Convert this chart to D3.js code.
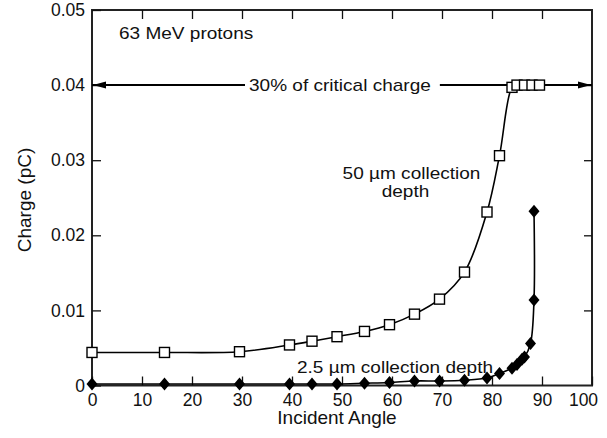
<!DOCTYPE html>
<html>
<head>
<meta charset="utf-8">
<script src="https://cdn.jsdelivr.net/npm/d3@7/dist/d3.min.js"></script>
<style>
  body { margin: 0; background: #fff; }
  svg { display: block; font-family: "Liberation Sans", Arial, sans-serif; }
</style>
</head>
<body>
<div id="chart"></div>
<script>
// 50 um collection depth (open squares)
var angles50 = [0, 14.5, 29.5, 39.5, 44, 49, 54.5, 59.5, 64.5, 69.5, 74.5, 79, 81.5, 84, 85, 86.5, 88, 89.5];
var charge50 = [0.0044, 0.0044, 0.0045, 0.0054, 0.0059, 0.0065, 0.0072, 0.0081, 0.0095, 0.0115, 0.0151, 0.0231, 0.0306, 0.0397, 0.0400, 0.0400, 0.0400, 0.0400];

// 2.5 um collection depth (filled diamonds)
var angles25 = [0, 14.5, 29.5, 39.5, 44, 49, 54.5, 59.5, 64.5, 69.5, 74.5, 79, 81.5, 84, 85, 86, 86.5, 87.7, 88.4, 88.4];
var charge25 = [0.0002, 0.0002, 0.0002, 0.0002, 0.0002, 0.0002, 0.0003, 0.0004, 0.0006, 0.0006, 0.0007, 0.0010, 0.0016, 0.0023, 0.0028, 0.0035, 0.0038, 0.0056, 0.0114, 0.0232];

var criticalCharge = 0.04;

var xTickValues = [0, 10, 20, 30, 40, 50, 60, 70, 80, 90, 100];
var yTickValues = [0, 0.01, 0.02, 0.03, 0.04, 0.05];

var width = 607, height = 438;
var plotLeft = 92, plotRight = 592, plotTop = 10, plotBottom = 385.5;
var stretch = 1.12;

var svg = d3.select('#chart').append('svg')
    .attr('width', width)
    .attr('height', height);

var x = d3.scaleLinear().domain([0, 100]).range([plotLeft, plotRight]);
var y = d3.scaleLinear().domain([0, 0.05]).range([plotBottom, plotTop]);

// frame
svg.append('rect')
    .attr('x', plotLeft).attr('y', plotTop)
    .attr('width', plotRight - plotLeft).attr('height', plotBottom - plotTop)
    .attr('fill', 'none')
    .attr('stroke', '#222')
    .attr('stroke-width', 2);

// axes, ticks pointing inward
var xAxis = svg.append('g')
    .attr('transform', 'translate(0,' + plotBottom + ')')
    .call(d3.axisBottom(x).tickValues(xTickValues).tickSizeInner(-9).tickSizeOuter(0).tickPadding(8).tickFormat(d3.format('d')));

// the last label sits inside the page edge
xAxis.selectAll('.tick text').filter(function(d) { return d === 100; }).attr('dx', -9);

svg.append('g')
    .attr('transform', 'translate(0,' + plotTop + ')')
    .call(d3.axisTop(x).tickValues(xTickValues.slice(1, -1)).tickSizeInner(-9).tickSizeOuter(0).tickFormat(''));

svg.append('g')
    .attr('transform', 'translate(' + plotLeft + ',0)')
    .call(d3.axisLeft(y).tickValues(yTickValues).tickSizeInner(-9).tickSizeOuter(0).tickPadding(7)
        .tickFormat(function(d) { return d === 0 ? '0' : d3.format('.2f')(d); }));

svg.append('g')
    .attr('transform', 'translate(' + plotRight + ',0)')
    .call(d3.axisRight(y).tickValues(yTickValues.slice(1, -1)).tickSizeInner(-8).tickSizeOuter(0).tickFormat(''));

svg.selectAll('.domain').remove();
svg.selectAll('.tick line').attr('stroke', '#111').attr('stroke-width', 1.3);
svg.selectAll('.tick text')
    .attr('fill', '#111')
    .style('font-size', '17.5px')
    .style('font-family', '"Liberation Sans", Arial, sans-serif');

// axis titles
svg.append('text')
    .attr('x', (plotLeft + plotRight) / 2 - 5)
    .attr('y', 423.5)
    .attr('text-anchor', 'middle')
    .style('font-size', '19px')
    .attr('fill', '#111')
    .text('Incident Angle');

svg.append('text')
    .attr('transform', 'translate(31,200) rotate(-90)')
    .attr('text-anchor', 'middle')
    .style('font-size', '19px')
    .attr('fill', '#111')
    .text('Charge (pC)');

function note(px, py, str, anchor) {
    return svg.append('text')
        .attr('transform', 'translate(' + px + ',' + py + ') scale(' + stretch + ',1)')
        .attr('text-anchor', anchor || 'start')
        .style('font-size', '17px')
        .attr('fill', '#111')
        .text(str);
}

note(119, 38.5, '63 MeV protons');

// critical charge arrow line
var critY = y(criticalCharge);
var critLabel = note(249, critY + 6, '30% of critical charge');
var bb = critLabel.node().getBBox();
var labelRight = 249 + bb.width * stretch;

var arrowG = svg.append('g');
arrowG.append('line')
    .attr('x1', x(0)).attr('x2', 245)
    .attr('y1', critY).attr('y2', critY)
    .attr('stroke', '#000').attr('stroke-width', 2);
arrowG.append('line')
    .attr('x1', labelRight + 9).attr('x2', x(100))
    .attr('y1', critY).attr('y2', critY)
    .attr('stroke', '#000').attr('stroke-width', 2);
arrowG.append('path')
    .attr('d', 'M' + (x(0) + 1) + ',' + critY + 'l13,-3.5l0,7z')
    .attr('fill', '#000');
arrowG.append('path')
    .attr('d', 'M' + (x(100) - 1) + ',' + critY + 'l-13,-3.5l0,7z')
    .attr('fill', '#000');

var line = d3.line()
    .x(function(d) { return x(d[0]); })
    .y(function(d) { return y(d[1]); })
    .curve(d3.curveCatmullRom.alpha(0.5));

var data25 = angles25.map(function(a, i) { return [a, charge25[i]]; });
var data50 = angles50.map(function(a, i) { return [a, charge50[i]]; });

svg.append('path')
    .datum(data25)
    .attr('d', line)
    .attr('fill', 'none')
    .attr('stroke', '#000')
    .attr('stroke-width', 1.6);

svg.append('path')
    .datum(data50)
    .attr('d', line)
    .attr('fill', 'none')
    .attr('stroke', '#000')
    .attr('stroke-width', 1.6);

svg.append('g').selectAll('path')
    .data(data25)
    .enter().append('path')
    .attr('transform', function(d) { return 'translate(' + x(d[0]) + ',' + y(d[1]) + ')'; })
    .attr('d', 'M0,-6.5L5.5,0L0,6.5L-5.5,0Z')
    .attr('fill', '#000');

svg.append('g').selectAll('rect')
    .data(data50)
    .enter().append('rect')
    .attr('x', function(d) { return x(d[0]) - 5; })
    .attr('y', function(d) { return y(d[1]) - 5; })
    .attr('width', 10).attr('height', 10)
    .attr('fill', '#fff')
    .attr('stroke', '#000')
    .attr('stroke-width', 1.4);

// series labels
note(411.5, 178.5, '50 \u00b5m collection', 'middle');
note(405.5, 196.5, 'depth', 'middle');
note(297, 372.5, '2.5 \u00b5m collection depth');
</script>
</body>
</html>
